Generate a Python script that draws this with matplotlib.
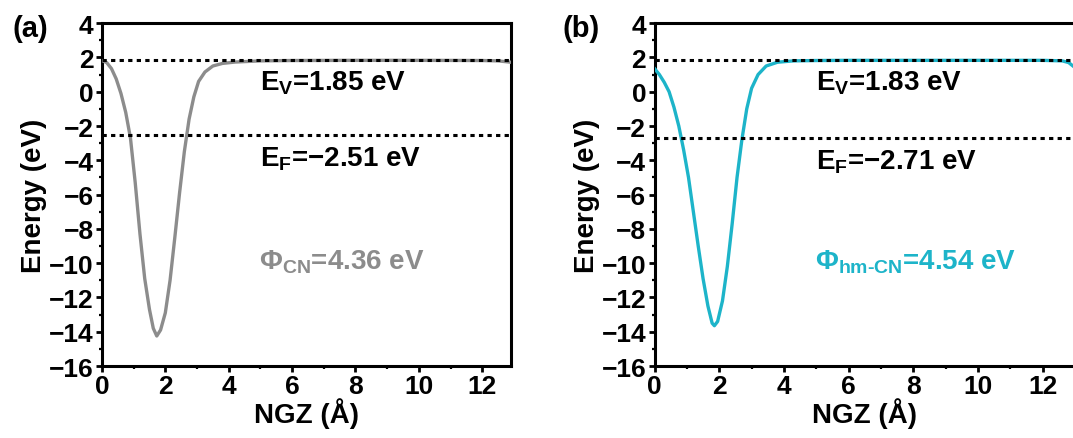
import matplotlib.pyplot as plt
from matplotlib.ticker import MultipleLocator

plt.rcParams['font.family'] = ['Liberation Sans', 'DejaVu Sans']
plt.rcParams['font.weight'] = 'bold'
plt.rcParams['mathtext.fontset'] = 'custom'
plt.rcParams['mathtext.rm'] = 'Liberation Sans:bold'
plt.rcParams['mathtext.bf'] = 'Liberation Sans:bold'
plt.rcParams['mathtext.it'] = 'Liberation Sans:bold'

# planar-averaged electrostatic potential along NGZ
z_cn = [0, 0.15, 0.3, 0.45, 0.6, 0.75, 0.9, 1.05, 1.2, 1.35, 1.5, 1.62, 1.73,
        1.85, 2.0, 2.15, 2.3, 2.45, 2.6, 2.75, 2.9, 3.05, 3.25, 3.5, 3.8, 4.2,
        5, 6, 8, 10, 12, 12.5, 12.9]
e_cn = [1.82, 1.7, 1.35, 0.75, -0.1, -1.2, -2.7, -5.3, -8.3, -10.9, -12.7, -13.8, -14.25,
        -13.9, -12.9, -11.0, -8.5, -5.9, -3.5, -1.6, -0.3, 0.6, 1.15, 1.5, 1.65, 1.73,
        1.8, 1.82, 1.83, 1.83, 1.82, 1.8, 1.72]

z_hm = [0, 0.15, 0.3, 0.45, 0.6, 0.75, 0.9, 1.05, 1.2, 1.35, 1.5, 1.65, 1.78,
        1.85, 1.95, 2.1, 2.25, 2.4, 2.55, 2.7, 2.85, 3.0, 3.2, 3.45, 3.8, 4.3,
        5, 6, 8, 10, 12, 12.6, 12.8, 13]
e_hm = [1.35, 1.0, 0.55, 0.0, -0.9, -2.0, -3.4, -5.0, -7.0, -9.0, -10.9, -12.5, -13.5,
        -13.65, -13.4, -12.2, -10.2, -7.7, -5.0, -2.8, -1.0, 0.2, 1.0, 1.5, 1.72, 1.8,
        1.82, 1.83, 1.83, 1.83, 1.83, 1.8, 1.7, 1.4]

ev_cn, ef_cn, phi_cn = 1.85, -2.51, 4.36
ev_hm, ef_hm, phi_hm = 1.83, -2.71, 4.54

fig = plt.figure(figsize=(10.73, 4.39), dpi=100)
ax1 = fig.add_axes([0.095, 0.164, 0.381, 0.781])
ax2 = fig.add_axes([0.610, 0.164, 0.392, 0.781])

panels = [
    (ax1, z_cn, e_cn, '#8c8c8c', ev_cn, ef_cn, phi_cn, r'$\Phi_{\mathrm{CN}}$', '(a)', 12.9),
    (ax2, z_hm, e_hm, '#1db4c9', ev_hm, ef_hm, phi_hm, r'$\Phi_{\mathrm{hm}\text{-}\mathrm{CN}}$', '(b)', 13.0),
]

for ax, z, e, col, ev, ef, phi, phi_lab, tag, xmax in panels:
    ax.plot(z, e, color=col, lw=2.4, zorder=3)
    ax.axhline(ev, color='black', lw=2.2, ls=(0, (1.4, 1.4)), zorder=4)
    ax.axhline(ef, color='black', lw=2.2, ls=(0, (1.4, 1.4)), zorder=4)

    ax.text(5.0, ev - 1.3, r'E$_\mathrm{V}$=%.2f eV' % ev, fontsize=20,
            fontweight='bold', va='center', ha='left')
    ax.text(5.0, ef - 1.35, r'E$_\mathrm{F}$=%s eV' % ('\u2212%.2f' % abs(ef)), fontsize=20,
            fontweight='bold', va='center', ha='left')
    ax.text(4.95, -9.9, phi_lab + '=%.2f eV' % phi, fontsize=20, fontweight='bold',
            color=col, va='center', ha='left')

    ax.set_xlim(0, xmax)
    ax.set_ylim(-16, 4)
    ax.xaxis.set_major_locator(MultipleLocator(2))
    ax.xaxis.set_minor_locator(MultipleLocator(1))
    ax.yaxis.set_major_locator(MultipleLocator(2))
    ax.yaxis.set_minor_locator(MultipleLocator(1))
    ax.tick_params(which='major', direction='out', length=4, width=2, labelsize=19, pad=2)
    ax.tick_params(which='minor', direction='out', length=2.5, width=1.6)
    ax.tick_params(top=False, right=False, which='both')
    for lab in ax.get_xticklabels() + ax.get_yticklabels():
        lab.set_fontweight('bold')
    for sp in ax.spines.values():
        sp.set_linewidth(2.2)

    ax.set_xlabel('NGZ (Å)', fontsize=20, fontweight='bold', labelpad=-1)
    ax.set_ylabel('Energy (eV)', fontsize=20, fontweight='bold', labelpad=1)
    ax.text(-0.218, 0.985, tag, transform=ax.transAxes, fontsize=21,
            fontweight='bold', ha='left', va='center')

fig.savefig('out.png', dpi=100)
